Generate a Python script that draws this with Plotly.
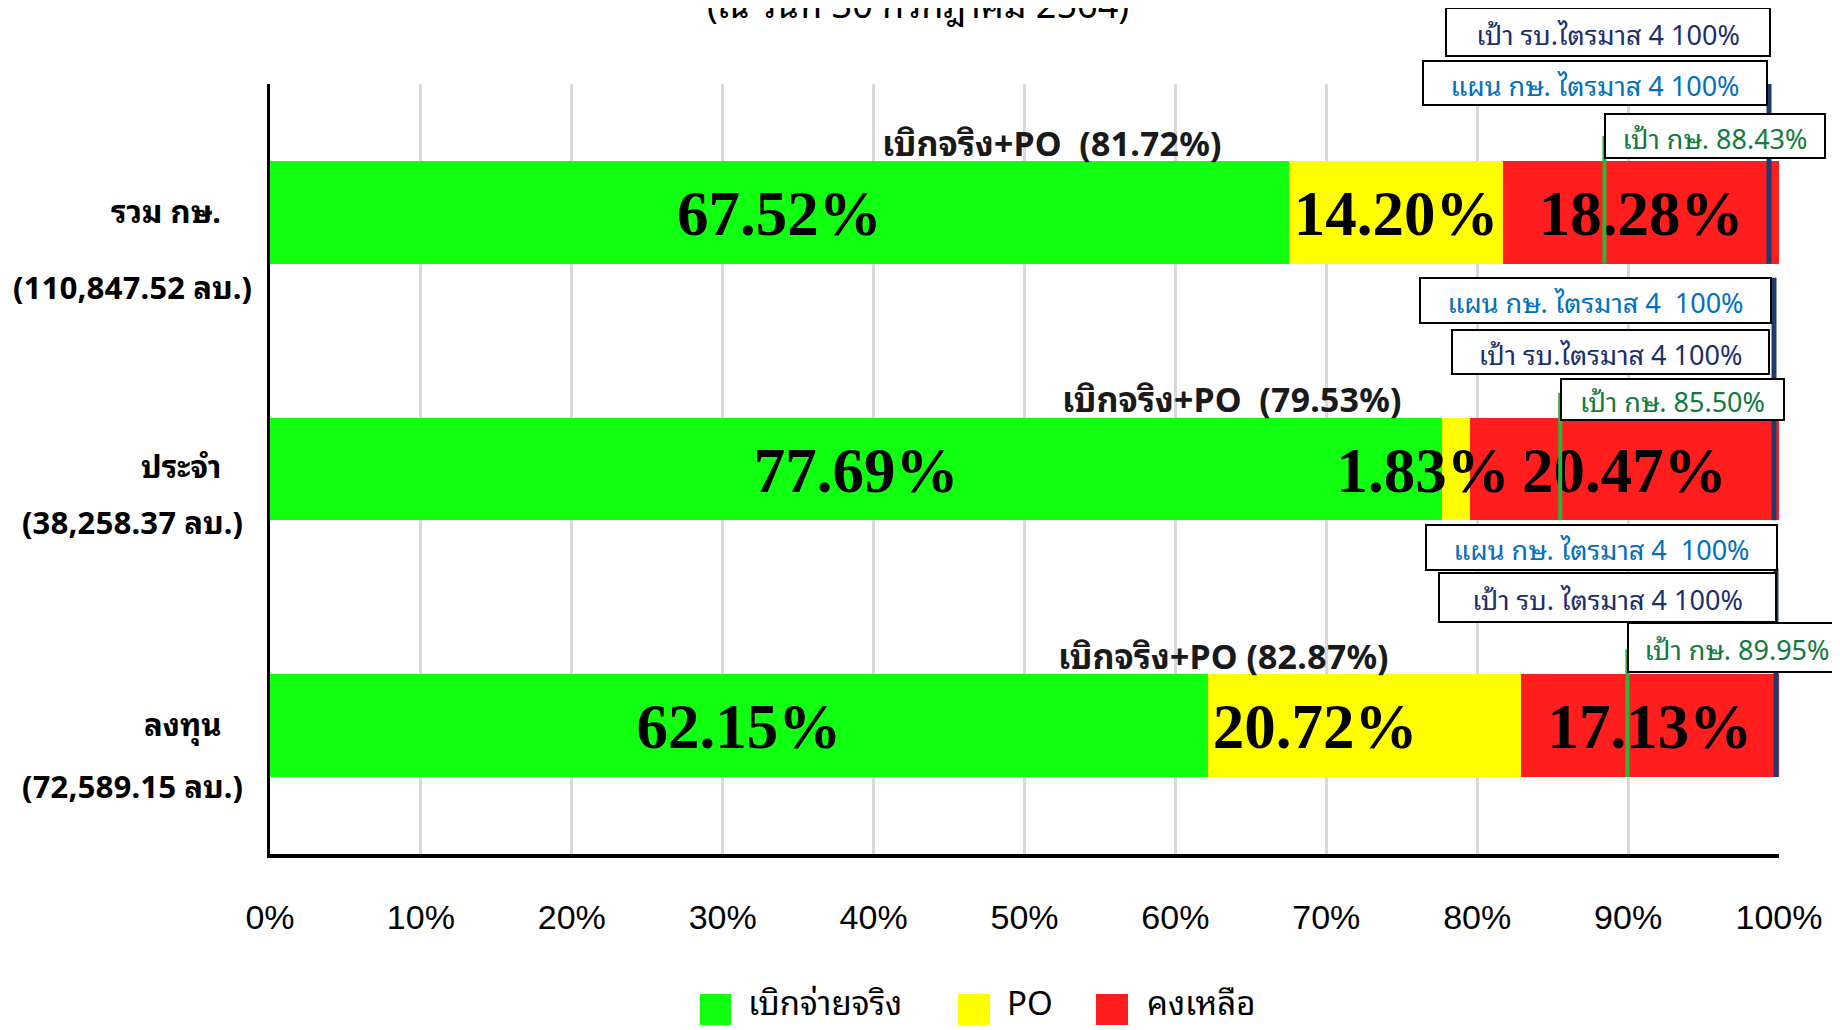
import plotly.graph_objects as go

# ---------------- data ----------------
categories = ["รวม กษ.", "ประจำ", "ลงทุน"]
budget_labels = ["(110,847.52 ลบ.)", "(38,258.37 ลบ.)", "(72,589.15 ลบ.)"]
series_names = ["เบิกจ่ายจริง", "PO", "คงเหลือ"]
actual_pct = [67.52, 77.69, 62.15]
po_pct = [14.20, 1.83, 20.72]
remain_pct = [18.28, 20.47, 17.13]
total_pct = [81.72, 79.53, 82.87]
target_ks_pct = [88.43, 85.50, 89.95]
plan_q4_pct = [100, 100, 100]
target_gov_q4_pct = [100, 100, 100]
x_tick_vals = [0, 10, 20, 30, 40, 50, 60, 70, 80, 90, 100]
x_tick_text = ["0%", "10%", "20%", "30%", "40%", "50%", "60%", "70%", "80%", "90%", "100%"]
title_text = "(ณ วันที่ 30 กรกฎาคม 2564)"
total_templates = ["เบิกจริง+PO  ({:.2f}%)", "เบิกจริง+PO  ({:.2f}%)", "เบิกจริง+PO ({:.2f}%)"]
plan_templates = ["แผน กษ. ไตรมาส 4 {:.0f}%", "แผน กษ. ไตรมาส 4  {:.0f}%", "แผน กษ. ไตรมาส 4  {:.0f}%"]
gov_templates = ["เป้า รบ.ไตรมาส 4 {:.0f}%", "เป้า รบ.ไตรมาส 4 {:.0f}%", "เป้า รบ. ไตรมาส 4 {:.0f}%"]
ks_template = "เป้า กษ. {:.2f}%"

# ---------------- geometry / style ----------------
OFF = 8                                  # page body margin
SCREEN_W, SCREEN_H = 1840, 1030
W, H = SCREEN_W - OFF, SCREEN_H - OFF
PLOT_L, PLOT_R, PLOT_T, PLOT_B = 270, 1779, 84, 854   # screen px
ML, MR = PLOT_L - OFF, W - (PLOT_R - OFF)
MT, MB = PLOT_T - OFF, H - (PLOT_B - OFF)
PW, PH = PLOT_R - PLOT_L, PLOT_B - PLOT_T
UNIT_Y = PH / len(categories)          # px per category
PX_PER_PCT = PW / 100.0
HALF_BAR = 0.2

GREEN, YELLOW, RED = "#11FF11", "#FFFF00", "#FF1D1D"
NAVY_TXT, BLUE_TXT, GREEN_TXT = "#1B2F6E", "#0070C0", "#117A3C"
GREEN_LINE, NAVY_LINE = "#2DB53A", "#1F3A70"
THAI = ("Tahoma, 'Leelawadee UI', 'Noto Sans Thai Looped', Garuda, Loma, "
        "'Noto Sans Thai', 'Liberation Sans', Arial, sans-serif")
SERIF = "'Times New Roman', 'Liberation Serif', serif"


def px_x(px):
    return (px - PLOT_L) / PW


def px_y(py):
    return (PLOT_B - py) / PH


fig = go.Figure()
colors = [GREEN, YELLOW, RED]
series = [actual_pct, po_pct, remain_pct]
for name, vals, col in zip(series_names, series, colors):
    fig.add_trace(go.Bar(
        y=categories, x=vals, name=name, orientation="h",
        marker=dict(color=col, line=dict(width=0)), showlegend=False,
        hoverinfo="x+name"))

# value labels inside segments (scatter text so target lines draw over them)
label_px_shift = {(1, 1): -33, (1, 2): -49}
LABEL_DROP = 7 / UNIT_Y
lx, ly, lt = [], [], []
for s, vals in enumerate(series):
    for i, v in enumerate(vals):
        start = sum(series[k][i] for k in range(s))
        lx.append(start + v / 2 + label_px_shift.get((s, i), 0) / PX_PER_PCT)
        ly.append(i + LABEL_DROP)
        lt.append(f"{v:.2f}%")
fig.add_trace(go.Scatter(
    x=lx, y=ly, text=lt, mode="text", textposition="middle center",
    textfont=dict(family=SERIF, size=63, color="black", weight="bold"),
    showlegend=False, hoverinfo="skip", cliponaxis=False, yaxis="y2"))

shapes = []
annotations = []

# total labels above bars
total_x_px = [1051, 1231, 1223]
for i, v in enumerate(total_pct):
    annotations.append(dict(
        x=(total_x_px[i] - PLOT_L) / PX_PER_PCT, y=i - HALF_BAR - 21 / UNIT_Y,
        xref="x", yref="y2", xanchor="center", yanchor="middle", showarrow=False,
        text=total_templates[i].format(v),
        font=dict(family=THAI, size=34, color="#1A1A1A", weight="bold")))

# target lines
navy_shift = [-10, -5, -3]
navy_rise = [106, 140, 106]
for i in range(len(categories)):
    shapes.append(dict(type="line", xref="x", yref="y2",
                       x0=target_ks_pct[i], x1=target_ks_pct[i],
                       y0=i + HALF_BAR, y1=i - HALF_BAR - 25 / UNIT_Y,
                       line=dict(color=GREEN_LINE, width=4), layer="above"))
    shapes.append(dict(type="line", xref="x", yref="y2", xsizemode="pixel",
                       xanchor=target_gov_q4_pct[i], x0=navy_shift[i], x1=navy_shift[i],
                       y0=i + HALF_BAR, y1=i - HALF_BAR - navy_rise[i] / UNIT_Y,
                       line=dict(color=NAVY_LINE, width=5), layer="above"))

# boxed annotations
BW = 2
ks_size = [(222, 46), (225, 43), (220, 51)]
ks_yshift = [2, -3, 1]
plan_size = [(346, 46), (353, 47), (353, 47)]
plan_rise = [55, 94, 103]
plan_xshift = [-11, -7, -1]
gov_size = [(326, 50), (319, 46), (339, 51)]
gov_rise = [104, 43, 51]
gov_xshift = [-8, -9, -2]
box_font = 27


def box(text, x, y, xanchor, w, h, xshift, yshift, color):
    return dict(x=x, y=y, xref="x", yref="y2", xanchor=xanchor, yanchor="bottom",
                xshift=xshift, yshift=yshift, showarrow=False, text=text,
                width=w - 2 * BW, height=h - 2 * BW, align="center", valign="middle",
                bgcolor="white", bordercolor="black", borderwidth=BW, borderpad=0,
                font=dict(family=THAI, size=box_font, color=color))


for i in range(len(categories)):
    ytop = i - HALF_BAR
    annotations.append(box(ks_template.format(target_ks_pct[i]), target_ks_pct[i], ytop,
                           "left", ks_size[i][0], ks_size[i][1], 0, ks_yshift[i], GREEN_TXT))
    annotations.append(box(plan_templates[i].format(plan_q4_pct[i]), plan_q4_pct[i], ytop,
                           "right", plan_size[i][0], plan_size[i][1], plan_xshift[i],
                           plan_rise[i], BLUE_TXT))
    annotations.append(box(gov_templates[i].format(target_gov_q4_pct[i]), target_gov_q4_pct[i], ytop,
                           "right", gov_size[i][0], gov_size[i][1], gov_xshift[i],
                           gov_rise[i], NAVY_TXT))

# category labels (two lines)
line1_up = [3, 5, 4]
line2_down = [73, 51, 58]
for i, (c, b) in enumerate(zip(categories, budget_labels)):
    annotations.append(dict(x=px_x(223), y=i, xref="paper", yref="y2", xanchor="right",
                            yanchor="middle", yshift=line1_up[i], showarrow=False, text=c,
                            font=dict(family=THAI, size=31, color="black", weight="bold")))
    annotations.append(dict(x=px_x(132), y=i, xref="paper", yref="y2", xanchor="center",
                            yanchor="middle", yshift=-line2_down[i], showarrow=False, text=b,
                            font=dict(family=THAI, size=31, color="black", weight="bold")))

# title (partly cut at top of the page, as in the original)
annotations.append(dict(x=px_x(918), y=px_y(2), xref="paper", yref="paper",
                        xanchor="center", yanchor="middle", showarrow=False, text=title_text,
                        font=dict(family=THAI, size=36, color="black")))

# manual legend
leg_sq = [(700, 731), (958, 990), (1096, 1128)]
leg_tx = [746, 1005, 1145]
for (a, b), tx, name, col in zip(leg_sq, leg_tx, series_names, colors):
    shapes.append(dict(type="rect", xref="paper", yref="paper",
                       x0=px_x(a), x1=px_x(b), y0=px_y(1025), y1=px_y(994),
                       fillcolor=col, line=dict(width=0)))
    annotations.append(dict(x=px_x(tx), y=px_y(1000), xref="paper", yref="paper",
                            xanchor="left", yanchor="middle", showarrow=False, text=name,
                            font=dict(family=THAI, size=33, color="black")))

fig.update_layout(
    width=W, height=H, autosize=False,
    margin=dict(l=ML, r=MR, t=MT, b=MB),
    paper_bgcolor="white", plot_bgcolor="white",
    barmode="stack", bargap=0.6,
    showlegend=False,
    shapes=shapes, annotations=annotations,
    xaxis=dict(range=[0, 100], tickvals=x_tick_vals, ticktext=x_tick_text,
               showgrid=True, gridcolor="#D9D9D9", gridwidth=3, zeroline=False,
               showline=True, linecolor="black", linewidth=4, ticks="",
               ticklabelstandoff=30,
               tickfont=dict(family="Arial, 'Liberation Sans', sans-serif", size=34, color="black")),
    yaxis=dict(type="category", categoryorder="array", categoryarray=categories,
               range=[len(categories) - 0.5, -0.5], showticklabels=False,
               showgrid=False, zeroline=False, showline=True, linecolor="black", linewidth=3,
               ticks=""),
    yaxis2=dict(overlaying="y", range=[len(categories) - 0.5, -0.5], visible=False,
                showgrid=False, zeroline=False),
)

fig.write_html("out.html")
